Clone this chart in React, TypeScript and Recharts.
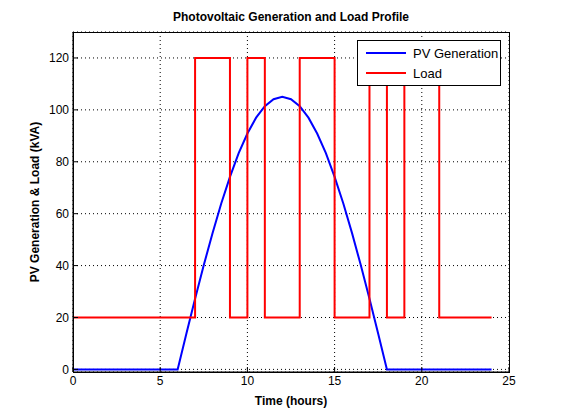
import { LineChart, Line, XAxis, YAxis, CartesianGrid } from 'recharts';

const hours = [0, 0.5, 1, 1.5, 2, 2.5, 3, 3.5, 4, 4.5, 5, 5.5, 6, 6.5, 7, 7.5, 8, 8.5, 9, 9.5, 10, 10.5, 11, 11.5, 12, 12.5, 13, 13.5, 14, 14.5, 15, 15.5, 16, 16.5, 17, 17.5, 18, 18.5, 19, 19.5, 20, 20.5, 21, 21.5, 22, 22.5, 23, 23.5, 24];
const pvGeneration = [0, 0, 0, 0, 0, 0, 0, 0, 0, 0, 0, 0, 0, 13.7, 27.2, 40.2, 52.5, 63.9, 74.2, 83.3, 90.9, 97, 101.4, 104.1, 105, 104.1, 101.4, 97, 90.9, 83.3, 74.2, 63.9, 52.5, 40.2, 27.2, 13.7, 0, 0, 0, 0, 0, 0, 0, 0, 0, 0, 0, 0, 0];
const loadHours = [0, 1, 2, 3, 4, 5, 6, 7, 8, 9, 10, 11, 12, 13, 14, 15, 16, 17, 18, 19, 20, 21, 22, 23, 24];
const loadValues = [20, 20, 20, 20, 20, 20, 20, 120, 120, 20, 120, 20, 20, 120, 120, 20, 20, 120, 20, 120, 120, 20, 20, 20, 20];
const xTicks = [0, 5, 10, 15, 20, 25];
const yTicks = [0, 20, 40, 60, 80, 100, 120];

const pvData = hours.map((h, i) => ({ h, pv: pvGeneration[i] }));
const loadData = loadHours.map((h, i) => ({ h, load: loadValues[i] }));

const font = '"Liberation Sans", Arial, sans-serif';

function LegendBox() {
  const row = (color: string, label: string) => (
    <div style={{ display: 'flex', alignItems: 'center', height: 20 }}>
      <div style={{ width: 40, height: 2, background: color, marginRight: 7, marginLeft: 8 }} />
      <span>{label}</span>
    </div>
  );
  return (
    <div style={{ position: 'absolute', left: 357, top: 40, zIndex: 2, border: '1px solid #000', background: '#fff', width: 142, padding: '2px 0', fontSize: 13, color: '#000' }}>
      {row('#0000ff', 'PV Generation')}
      {row('#ff0000', 'Load')}
    </div>
  );
}

export default function App() {
  return (
    <div style={{ position: 'absolute', left: 0, top: 0, width: 561, height: 420, background: '#fff', fontFamily: font }}>
      <div style={{ position: 'absolute', top: 10, width: 436, left: 73, textAlign: 'center', fontWeight: 'bold', fontSize: 12 }}>
        Photovoltaic Generation and Load Profile
      </div>
      <div style={{ position: 'absolute', top: 394, width: 436, left: 73, textAlign: 'center', fontWeight: 'bold', fontSize: 12 }}>
        Time (hours)
      </div>
      <div style={{ position: 'absolute', left: 35, top: 202, transform: 'translate(-50%, -50%) rotate(-90deg)', whiteSpace: 'nowrap', fontWeight: 'bold', fontSize: 12 }}>
        PV Generation &amp; Load (kVA)
      </div>
      <div style={{ position: 'absolute', left: 73, top: 32, width: 435, height: 339, border: '1px solid #000', zIndex: 1, pointerEvents: 'none' }} />
      <LegendBox />
      <LineChart width={561} height={420} margin={{ top: 32, right: 52, bottom: 0, left: 0 }}>
        <CartesianGrid stroke="#000" strokeDasharray="1 3" />
        <XAxis dataKey="h" type="number" domain={[0, 25]} ticks={xTicks} height={48} allowDuplicatedCategory={false}
          stroke="#000" tickSize={-5} tickMargin={9} tick={{ fill: '#000', fontSize: 12 }} />
        <YAxis type="number" domain={[-1, 130]} ticks={yTicks} width={73} stroke="#000" tickSize={-5} tickMargin={9}
          tick={{ fill: '#000', fontSize: 12 }} />
        <Line data={pvData} dataKey="pv" type="linear" stroke="#0000ff" strokeWidth={2} dot={false} isAnimationActive={false} />
        <Line data={loadData} dataKey="load" type="stepAfter" stroke="#ff0000" strokeWidth={2} dot={false} isAnimationActive={false} />
      </LineChart>
    </div>
  );
}
